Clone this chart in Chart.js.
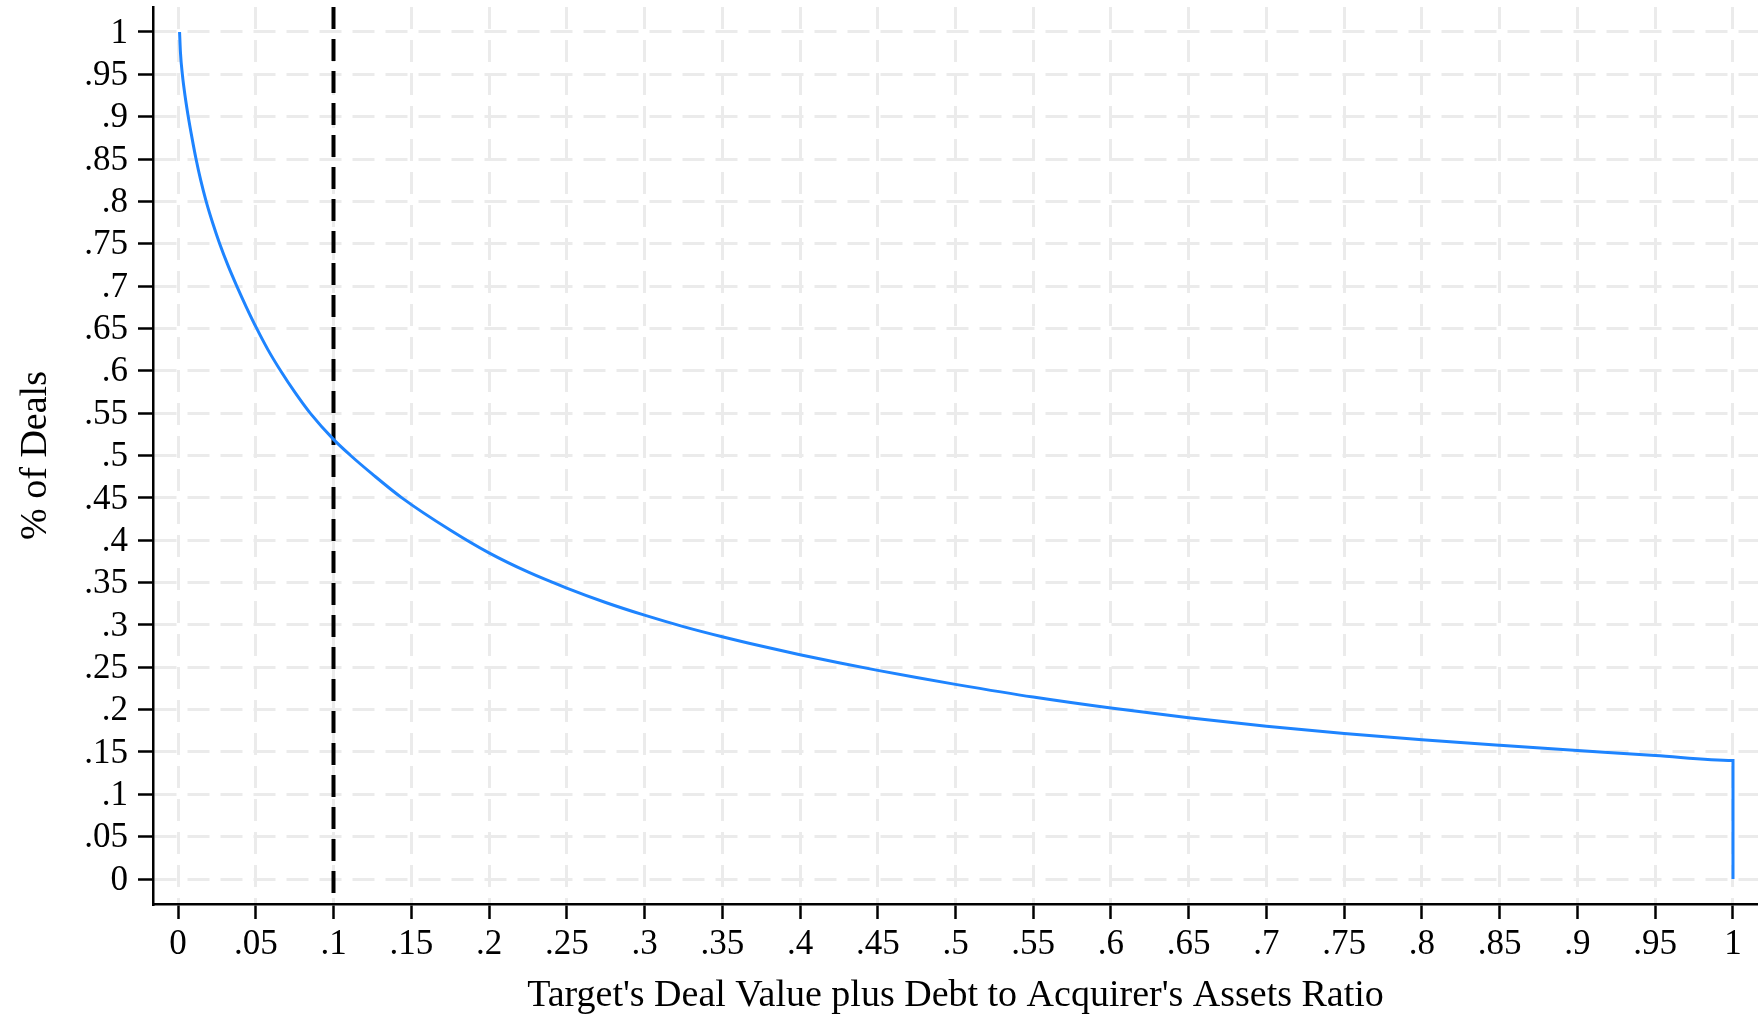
<!DOCTYPE html>
<html><head><meta charset="utf-8">
<script src="https://cdn.jsdelivr.net/npm/chart.js@4.4.0/dist/chart.umd.min.js"></script>
<style>html,body{margin:0;padding:0;background:#fff;overflow:hidden}#wrap{width:1758px;height:1019px}</style>
</head><body><div id="wrap"><canvas id="c" width="1758" height="1019"></canvas></div>
<script>
// Share of deals with ratio above x
const xVals = [0.001, 0.0016, 0.0028, 0.0045, 0.0066, 0.009, 0.0116, 0.0146, 0.0181, 0.0222, 0.0268, 0.032, 0.0378, 0.044, 0.0506, 0.0578, 0.066, 0.075, 0.085, 0.1, 0.111, 0.125, 0.144, 0.175, 0.2, 0.225, 0.25, 0.275, 0.3, 0.325, 0.35, 0.375, 0.4, 0.425, 0.45, 0.475, 0.5, 0.55, 0.6, 0.65, 0.7, 0.75, 0.8, 0.85, 0.9, 0.95, 1.0, 1.0];
const yVals = [1.0, 0.975, 0.95, 0.925, 0.9, 0.875, 0.85, 0.825, 0.8, 0.775, 0.75, 0.725, 0.7, 0.675, 0.65, 0.625, 0.6, 0.575, 0.55, 0.519, 0.5, 0.478, 0.45, 0.412, 0.385, 0.3625, 0.3435, 0.3265, 0.3115, 0.298, 0.286, 0.275, 0.2648, 0.2553, 0.2463, 0.2378, 0.2298, 0.2148, 0.2018, 0.1903, 0.1803, 0.1718, 0.1643, 0.1578, 0.1518, 0.1458, 0.140, 0];
const refLineX = 0.1;
const tickValues = [0, 0.05, 0.1, 0.15, 0.2, 0.25, 0.3, 0.35, 0.4, 0.45, 0.5, 0.55, 0.6, 0.65, 0.7, 0.75, 0.8, 0.85, 0.9, 0.95, 1];
const tickLabels = ['0', '.05', '.1', '.15', '.2', '.25', '.3', '.35', '.4', '.45', '.5', '.55', '.6', '.65', '.7', '.75', '.8', '.85', '.9', '.95', '1'];
const xTitle = "Target's Deal Value plus Debt to Acquirer's Assets Ratio";
const yTitle = "% of Deals";

const X_MIN = -0.01608, X_MAX = 1.01608;
const Y_MIN = -0.0295, Y_MAX = 1.0295;

const curve = xVals.map((x, i) => ({x: x, y: yVals[i]}));
const refLine = [{x: refLineX, y: Y_MAX}, {x: refLineX, y: Y_MIN}];

const serif = "'Liberation Serif', 'Times New Roman', serif";
const tickFont = {family: serif, size: 35};
const titleFont = {family: serif, size: 38};
function labelFor(v) {
  const i = tickValues.findIndex(t => Math.abs(t - v) < 1e-9);
  return i >= 0 ? tickLabels[i] : '';
}
const setTicks = s => { s.ticks = tickValues.map(v => ({value: v})); };

new Chart(document.getElementById('c'), {
  type: 'line',
  data: {
    datasets: [
      {data: curve, borderColor: '#1e84ff', borderWidth: 3, pointRadius: 0, cubicInterpolationMode: 'monotone', fill: false, order: 1},
      {data: refLine, borderColor: '#000000', borderWidth: 4, borderDash: [22, 10], pointRadius: 0, fill: false, order: 2}
    ]
  },
  options: {
    responsive: false,
    animation: false,
    layout: {padding: {top: 7, right: 0, left: 0, bottom: 0}},
    plugins: {legend: {display: false}, tooltip: {enabled: false}},
    scales: {
      x: {
        type: 'linear', min: X_MIN, max: X_MAX,
        afterBuildTicks: setTicks,
        afterFit: s => { s.height = 115; s.paddingLeft = 0; s.paddingRight = 0; },
        grid: {color: '#ebebeb', lineWidth: 3, tickLength: 15, tickColor: '#000', tickWidth: 2.5, tickBorderDash: []},
        border: {display: true, color: '#000', width: 2.5, dash: [22, 11]},
        ticks: {color: '#000', font: tickFont, padding: 5, maxRotation: 0, autoSkip: false, callback: v => labelFor(v)},
        title: {display: true, text: xTitle, color: '#000', font: titleFont, padding: {top: 0, bottom: 0}}
      },
      y: {
        type: 'linear', min: Y_MIN, max: Y_MAX,
        afterBuildTicks: setTicks,
        afterFit: s => { s.width = 153; s.paddingTop = 0; s.paddingBottom = 0; },
        grid: {color: '#ebebeb', lineWidth: 3, tickLength: 15, tickColor: '#000', tickWidth: 2.5, tickBorderDash: []},
        border: {display: true, color: '#000', width: 2.5, dash: [22, 11]},
        ticks: {color: '#000', font: tickFont, padding: 10, labelOffset: 1.5, autoSkip: false, callback: v => labelFor(v)},
        title: {display: true, text: yTitle, color: '#000', font: titleFont, padding: {top: 13.5, bottom: 0}}
      }
    }
  }
});
</script>
</body></html>
